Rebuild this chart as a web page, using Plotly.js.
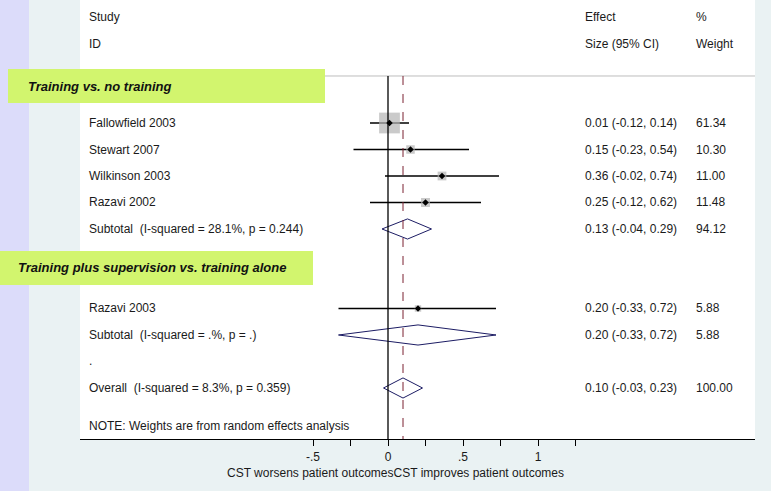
<!DOCTYPE html>
<html>
<head>
<meta charset="utf-8">
<script src="https://cdn.plot.ly/plotly-3.0.1.min.js"></script>
<style>html,body{margin:0;padding:0;background:#eaf2f3;}#chart{width:771px;height:491px;}</style>
</head>
<body>
<div id="chart"></div>
<script>
// ---- data ----
const studyLabels = ["Fallowfield 2003", "Stewart 2007", "Wilkinson 2003", "Razavi 2002", "Razavi 2003"];
const studyES = [0.01, 0.15, 0.36, 0.25, 0.20];
const studyLo = [-0.12, -0.23, -0.02, -0.12, -0.33];
const studyHi = [0.14, 0.54, 0.74, 0.62, 0.72];
const studyWt = [61.34, 10.30, 11.00, 11.48, 5.88];
const studyRow = [4, 5, 6, 7, 11];

const poolLabels = ["Subtotal  (I-squared = 28.1%, p = 0.244)", "Subtotal  (I-squared = .%, p = .)", "Overall  (I-squared = 8.3%, p = 0.359)"];
const poolES = [0.13, 0.20, 0.10];
const poolLo = [-0.04, -0.33, -0.03];
const poolHi = [0.29, 0.72, 0.23];
const poolWt = [94.12, 5.88, 100.00];
const poolRow = [8, 12, 14];

const groupLabels = ["Training vs. no training", "Training plus supervision vs. training alone"];
const groupRow = [2.64, 9.47];

const tickVals = [-0.5, -0.25, 0, 0.25, 0.5, 0.75, 1, 1.25];
const tickText = ["-.5", "", "0", "", ".5", "", "1", ""];
const overallES = 0.10;

// ---- layout helpers ----
const font = {family: "Liberation Sans, Arial, sans-serif", size: 12, color: "#1a1a1a"};
const colLeft = -2.0067, colEff = 1.30, colWt = 2.04;
const yTop = -0.6415, yBot = 15.925, lineTop = 2.226;
const f2 = v => v.toFixed(2);

const traces = [];
// CI lines
const ciX = [], ciY = [];
studyLo.forEach((l, i) => { ciX.push(l, studyHi[i], null); ciY.push(studyRow[i], studyRow[i], null); });
traces.push({x: ciX, y: ciY, mode: "lines", line: {color: "#000", width: 1.3}, hoverinfo: "skip"});
// weight boxes
traces.push({x: studyES, y: studyRow, mode: "markers", hoverinfo: "skip",
  marker: {symbol: "square", size: studyWt.map(w => Math.sqrt(w) * 2.65), color: "#b4b4b4", line: {width: 0}}});
// point estimates
traces.push({x: studyES, y: studyRow, mode: "markers", hoverinfo: "skip",
  marker: {symbol: "diamond", size: 5, color: "#000"}});
// diamonds
const dX = [], dY = [], h = 0.38;
poolES.forEach((e, i) => {
  const r = poolRow[i];
  dX.push(poolLo[i], e, poolHi[i], e, poolLo[i], null);
  dY.push(r, r - h, r, r + h, r, null);
});
traces.push({x: dX, y: dY, mode: "lines", line: {color: "#1c1c64", width: 1}, hoverinfo: "skip"});

const ann = [];
const txt = (x, y, text, extra) => ann.push(Object.assign({x: x, y: y, xref: "x", yref: "y", text: text, showarrow: false, xanchor: "left", yanchor: "middle", font: font}, extra || {}));
// headers
txt(colLeft, 0, "Study"); txt(colLeft, 1, "ID");
txt(colEff, 0, "Effect"); txt(colEff, 1, "Size (95% CI)");
txt(colWt, 0, "%"); txt(colWt, 1, "Weight");
studyLabels.forEach((s, i) => {
  txt(colLeft, studyRow[i], s);
  txt(colEff, studyRow[i], f2(studyES[i]) + " (" + f2(studyLo[i]) + ", " + f2(studyHi[i]) + ")");
  txt(colWt, studyRow[i], f2(studyWt[i]));
});
poolLabels.forEach((s, i) => {
  txt(colLeft, poolRow[i], s);
  txt(colEff, poolRow[i], f2(poolES[i]) + " (" + f2(poolLo[i]) + ", " + f2(poolHi[i]) + ")");
  txt(colWt, poolRow[i], f2(poolWt[i]));
});
txt(colLeft, 13, ".");
txt(colLeft, 15.45, "NOTE: Weights are from random effects analysis");
// group headers
const gx = [26, 16];
groupLabels.forEach((g, i) => ann.push({xref: "paper", x: (gx[i] - 80) / 675, yref: "y", y: groupRow[i], text: "<b><i>" + g + "</i></b>",
  showarrow: false, xanchor: "left", yanchor: "middle", font: {family: font.family, size: 13, color: "#111"}}));
// x axis title
ann.push({xref: "x", x: 0.053, yref: "paper", y: -34 / 439, yanchor: "middle", xanchor: "center", showarrow: false,
  text: "CST worsens patient outcomesCST improves patient outcomes", font: font});

const px = p => (p - 80) / 675;
const shapes = [
  {type: "rect", xref: "paper", yref: "paper", x0: px(0), x1: px(29), y0: -52 / 439, y1: 1, fillcolor: "#dcdcfa", line: {width: 0}, layer: "below"},
  {type: "line", xref: "paper", yref: "y", x0: 0, x1: 1, y0: lineTop, y1: lineTop, line: {color: "#bdbdbd", width: 1}},
  {type: "line", xref: "x", yref: "y", x0: 0, x1: 0, y0: lineTop, y1: yBot, line: {color: "#000", width: 1.3}},
  {type: "line", xref: "x", yref: "y", x0: overallES, x1: overallES, y0: lineTop, y1: yBot, line: {color: "#7a2030", width: 1, dash: "dash"}},
  {type: "rect", xref: "paper", yref: "paper", x0: px(8), x1: px(325), y0: 1 - 103 / 439, y1: 1 - 69 / 439, fillcolor: "#d2f56e", line: {width: 0}, layer: "above"},
  {type: "rect", xref: "paper", yref: "paper", x0: px(0), x1: px(313), y0: 1 - 285 / 439, y1: 1 - 251 / 439, fillcolor: "#d2f56e", line: {width: 0}, layer: "above"}
];

const layout = {
  width: 771, height: 491,
  margin: {l: 80, r: 16, t: 0, b: 52, pad: 0},
  paper_bgcolor: "#eaf2f3", plot_bgcolor: "#ffffff",
  showlegend: false,
  font: font,
  xaxis: {range: [-2.0533, 2.4467], tickvals: tickVals, ticktext: tickText, ticks: "outside", ticklen: 6, tickwidth: 1, tickcolor: "#000",
    showline: true, linecolor: "#000", linewidth: 1.3, showgrid: false, zeroline: false, tickfont: font, fixedrange: true},
  yaxis: {range: [yBot, yTop], visible: false, showgrid: false, zeroline: false, fixedrange: true},
  shapes: shapes,
  annotations: ann
};
Plotly.newPlot("chart", traces, layout, {displayModeBar: false, staticPlot: true});
</script>
</body>
</html>
